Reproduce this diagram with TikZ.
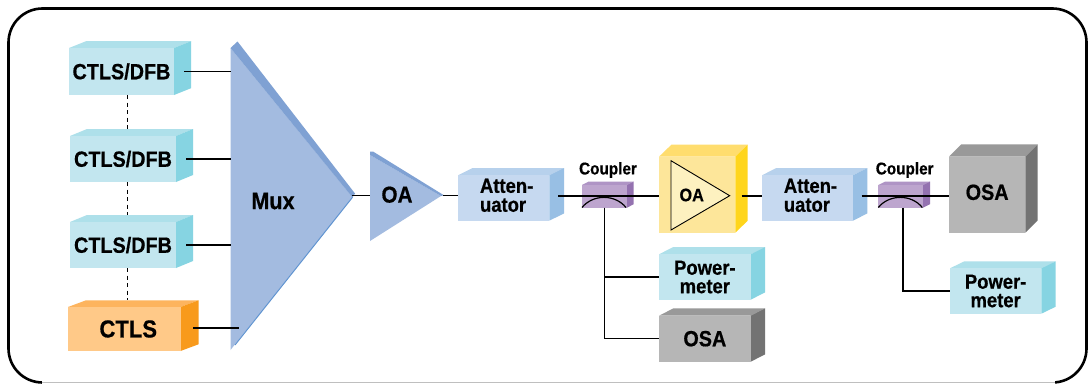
\documentclass[tikz,border=0pt]{standalone}
\usepackage{fontspec}
\setmainfont{Liberation Sans}
\newfontfamily\labf[FakeStretch=0.9,FakeBold=0.6]{Liberation Sans}
\definecolor{cyF}{HTML}{C2E6EF}\definecolor{cyT}{HTML}{AEE0EA}\definecolor{cyS}{HTML}{86D4E2}
\definecolor{orF}{HTML}{FFC988}\definecolor{orT}{HTML}{FDB45E}\definecolor{orS}{HTML}{F89A1C}
\definecolor{blF}{HTML}{C6D9F0}\definecolor{blT}{HTML}{B7D1EC}\definecolor{blS}{HTML}{98BFE4}
\definecolor{puF}{HTML}{BDA5CE}\definecolor{puT}{HTML}{AF94C5}\definecolor{puS}{HTML}{9472B0}
\definecolor{yeF}{HTML}{FDE69A}\definecolor{yeT}{HTML}{FFDD6E}\definecolor{yeS}{HTML}{FFD51C}\definecolor{yeI}{HTML}{FDF1C0}
\definecolor{grF}{HTML}{B6B6B6}\definecolor{grT}{HTML}{999999}\definecolor{grS}{HTML}{737373}
\definecolor{muxF}{HTML}{A3BBE0}\definecolor{muxB}{HTML}{7FA1D3}\definecolor{muxE}{HTML}{5F93D0}
% #1 name, #2-#5 x0,y0,x1,y1, #6 dx, #7 dy, #8 colour prefix, #9 text
\newcommand{\cube}[9]{%
  \fill[#8T] (#2,#3) -- ({#2+#6},{#3-#7}) -- ({#4+#6},{#3-#7}) -- (#4,#3) -- cycle;
  \fill[#8S] (#4,#3) -- ({#4+#6},{#3-#7}) -- ({#4+#6},{#5-#7}) -- (#4,#5) -- cycle;
  \node[face, fill=#8F, minimum width={(#4-#2)*1pt}, minimum height={(#5-#3)*1pt}] (#1) at ({(#2+#4)/2},{(#3+#5)/2}) {#9};
}
\newcommand{\fs}[1]{\fontsize{#1}{18.5}\selectfont}
\tikzset{
  face/.style={inner sep=0pt, outer sep=0pt, align=center, font=\labf\bfseries\fontsize{20.5}{18.5}\selectfont, text=black},
  wire/.style={draw=black, line width=1.2pt},
  dashwire/.style={draw=black, line width=1pt, dash pattern=on 4pt off 3.5pt},
  lbl/.style={inner sep=0pt, font=\labf\bfseries\fontsize{#1}{#1}\selectfont}
}
\begin{document}
\begin{tikzpicture}[x=1pt,y=-1pt]
\useasboundingbox (0,0) rectangle (1090,383);
\fill[white] (0,0) rectangle (1090,383);
% frame
\node[draw=black, line width=2.6pt, rounded corners=34pt, minimum width=1078pt, minimum height=374pt, inner sep=0pt, outer sep=0pt] (frame) at (547.5,195.5) {};
\coordinate (fbl) at (42,382.3); \coordinate (fbr) at (1055,382.3);
\draw[white, line width=3pt] (fbl) -- (fbr);
\draw[black!25, line width=1.3pt] (fbl) -- (fbr);
% sources
\cube{d1}{69}{48}{174}{95}{17}{6.8}{cy}{\fs{22}CTLS/DFB}
\cube{d2}{70}{136}{176}{182}{17}{7}{cy}{\fs{22}CTLS/DFB}
\cube{d3}{70}{222}{176}{268}{17}{7}{cy}{\fs{22}CTLS/DFB}
\cube{c4}{68}{307}{180.5}{351}{18}{6.7}{or}{\hspace*{8pt}\fs{24.5}CTLS}
% mux
\fill[muxF] (230.5,48) -- (352.5,197) -- (230.5,350) -- cycle;
\fill[muxB] (230.5,48) -- (237.5,41.5) -- (355,193.5) -- (352.5,197.3) -- cycle;
\draw[muxE, line width=1pt] (352.5,197.3) -- (235,345);
\node[lbl=24] (mux) at (273,201) {Mux};
% OA triangle
\fill[muxF] (370,155) -- (441,196) -- (370,241) -- cycle;
\fill[muxB] (370,155) -- (370,151.5) -- (373,151.5) -- (444,195.3) -- (441,196) -- cycle;
\node[lbl=23] (oa1) at (397,194.7) {OA};
% middle row
\cube{att1}{458}{175.3}{549.3}{220.7}{14.7}{7.3}{bl}{\hspace*{6pt}\begin{tabular}{@{}l@{}}Atten-\\uator\end{tabular}}
\cube{cp1}{582}{185}{627}{207.7}{6.7}{3.5}{pu}{}
\node[lbl=17] (cp1l) at (608,170) {Coupler};
\cube{amp}{659}{156.7}{735.3}{232.7}{12.4}{12}{ye}{}
\fill[yeI, draw=black, line width=0.9pt] (671,160.7) -- (729.7,195.7) -- (671,230) -- cycle;
\node[lbl=18] (oa2) at (691.7,195) {OA};
\cube{pm1}{659}{254.3}{750.7}{299.7}{14.3}{7.3}{cy}{Power-\\meter}
\cube{osa1}{659}{315.7}{750.7}{361.7}{14.3}{7.3}{gr}{\fs{22}OSA}
\cube{att2}{762}{175.3}{853}{220.7}{14.3}{7.3}{bl}{\hspace*{6pt}\begin{tabular}{@{}l@{}}Atten-\\uator\end{tabular}}
\cube{cp2}{878.3}{185}{923}{207.7}{7}{3.5}{pu}{}
\node[lbl=17] (cp2l) at (904.7,170) {Coupler};
\cube{osa2}{949}{156.7}{1025.3}{232.7}{12.4}{12.4}{gr}{\raisebox{5pt}{\fs{22}OSA}}
\cube{pm2}{950}{268.3}{1041.3}{313.7}{14.4}{7}{cy}{Power-\\meter}
% ports
\coordinate (d1o) at (184,71.3); \coordinate (d2o) at (186,159); \coordinate (d3o) at (186,245); \coordinate (c4o) at (193,328);
\coordinate (muxin) at (230.5,48); \coordinate (c4i) at (239,328);
\coordinate (muxo) at (352,195.7); \coordinate (oa1i) at (370,195.7); \coordinate (oa1o) at (443,195.7);
\coordinate (a1o) at (558,196); \coordinate (ampo) at (741.7,196); \coordinate (a2o) at (861.7,196);
\coordinate (cp1b) at (604.3,207.7); \coordinate (cp2b) at (903,207.7);
% connectors
\draw[dashwire] (127.5,95) -- (127.5,128.7);
\draw[dashwire] (127.5,182) -- (127.5,215);
\draw[dashwire] (127.5,268) -- (127.5,300.3);
\draw[wire] (d1o) -- (d1o -| muxin);
\draw[wire] (d2o) -- (d2o -| muxin);
\draw[wire] (d3o) -- (d3o -| muxin);
\draw[wire] (c4o) -- (c4i);
\draw[wire] (muxo) -- (oa1i);
\draw[wire] (oa1o) -- (oa1o -| att1.west);
\draw[wire] (a1o) -- (a1o -| amp.west);
\draw[wire] (ampo) -- (ampo -| att2.west);
\draw[wire] (a2o) -- (a2o -| osa2.west);
\draw[wire] (582,207.5) .. controls (593,194) and (615,194) .. (626,207.5);
\draw[wire] (878.3,207.5) .. controls (889.3,194) and (911.3,194) .. (922.3,207.5);
\draw[wire] (cp1b) |- (pm1.west);
\draw[wire] (cp1b) |- (osa1.west);
\draw[wire] (cp2b) |- (pm2.west);
\end{tikzpicture}
\end{document}
